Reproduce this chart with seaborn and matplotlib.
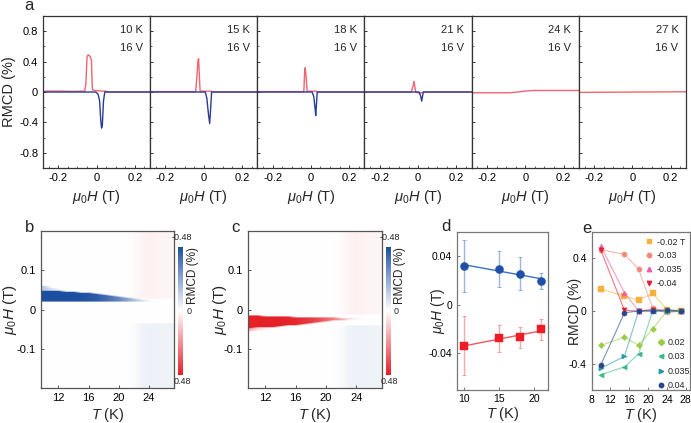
import numpy as np
import pandas as pd
import matplotlib
matplotlib.use("Agg")
import matplotlib.pyplot as plt
import seaborn as sns
from matplotlib.colors import LinearSegmentedColormap
from matplotlib.ticker import FixedLocator, MultipleLocator
from matplotlib.lines import Line2D

# ---------------- data: panel a (RMCD loops) ----------------
temps_a = ["10 K", "15 K", "18 K", "21 K", "24 K", "27 K"]
gate_a = "16 V"

red10_H = [-0.28, -0.2, -0.12, -0.062, -0.056, -0.05, -0.044, -0.034, -0.027, -0.022, -0.01, 0.03, 0.055, 0.06, 0.28]
red10_R = [0.01, 0.012, 0.008, 0.012, 0.1, 0.46, 0.49, 0.47, 0.42, 0.03, 0.02, 0.012, 0.01, 0.0, 0.0]
blue10_H = [-0.28, -0.004, 0.008, 0.016, 0.022, 0.026, 0.03, 0.036, 0.043, 0.28]
blue10_R = [0.0, 0.0, -0.03, -0.12, -0.38, -0.475, -0.44, -0.12, 0.0, 0.0]

red15_H = [-0.28, -0.042, -0.036, -0.03, -0.027, -0.023, -0.019, 0.04, 0.046, 0.28]
red15_R = [0.005, 0.005, 0.2, 0.42, 0.44, 0.22, 0.01, 0.01, 0.0, 0.0]
blue15_H = [-0.28, 0.008, 0.016, 0.025, 0.031, 0.036, 0.041, 0.28]
blue15_R = [0.0, 0.0, -0.08, -0.3, -0.415, -0.22, 0.0, 0.0]

red18_H = [-0.28, -0.037, -0.033, -0.03, -0.025, -0.02, 0.03, 0.034, 0.28]
red18_R = [0.005, 0.005, 0.25, 0.32, 0.2, 0.01, 0.01, 0.0, 0.0]
blue18_H = [-0.28, 0.006, 0.015, 0.022, 0.025, 0.029, 0.033, 0.28]
blue18_R = [0.0, 0.0, -0.06, -0.22, -0.31, -0.16, 0.0, 0.0]

red21_H = [-0.28, -0.036, -0.028, -0.021, -0.016, -0.012, -0.005, 0.024, 0.028, 0.28]
red21_R = [0.0, 0.0, 0.06, 0.14, 0.05, 0.0, -0.01, -0.01, 0.0, 0.0]
blue21_H = [-0.28, 0.005, 0.013, 0.019, 0.023, 0.027, 0.28]
blue21_R = [0.0, 0.0, -0.05, -0.12, -0.06, 0.0, 0.0]

red24_H = [-0.28, -0.08, -0.04, 0.0, 0.04, 0.28]
red24_R = [-0.01, -0.01, 0.0, 0.012, 0.02, 0.02]
red27_H = [-0.28, 0.28]
red27_R = [-0.005, 0.003]

traces_red = [(red10_H, red10_R), (red15_H, red15_R), (red18_H, red18_R),
              (red21_H, red21_R), (red24_H, red24_R), (red27_H, red27_R)]
traces_blue = [(blue10_H, blue10_R), (blue15_H, blue15_R), (blue18_H, blue18_R),
               (blue21_H, blue21_R), None, None]

# ---------------- data: panels b, c (maps) ----------------
hm_T = list(range(10, 28))                       # temperature columns (K)
hm_H = list(np.round(np.arange(-0.2, 0.20001, 0.0025), 4))  # field rows (T)
band_T = list(range(10, 25))
b_band_lo = [0.018, 0.018, 0.019, 0.019, 0.019, 0.019, 0.019, 0.019, 0.018, 0.018, 0.018, 0.018, 0.018, 0.019, 0.020]
b_band_hi = [0.047, 0.046, 0.045, 0.044, 0.043, 0.041, 0.040, 0.038, 0.036, 0.034, 0.032, 0.029, 0.026, 0.023, 0.021]
b_band_val = [-0.48, -0.48, -0.48, -0.48, -0.48, -0.47, -0.46, -0.44, -0.41, -0.37, -0.32, -0.25, -0.17, -0.09, -0.03]
b_halo_T = [10, 11, 12]
b_halo_edge = [0.058, 0.054, 0.05]
b_halo_val = [-0.14, -0.08, -0.04]

c_band_lo = [-0.048, -0.047, -0.046, -0.045, -0.044, -0.042, -0.041, -0.038, -0.036, -0.033, -0.031, -0.029, -0.028, -0.026, -0.025]
c_band_hi = [-0.016, -0.017, -0.018, -0.019, -0.020, -0.020, -0.021, -0.021, -0.022, -0.022, -0.022, -0.022, -0.023, -0.023, -0.024]
c_band_val = [0.48, 0.48, 0.48, 0.48, 0.48, 0.47, 0.46, 0.44, 0.42, 0.38, 0.33, 0.27, 0.2, 0.12, 0.04]
c_halo_T = [10, 11, 12]
c_halo_edge = [-0.056, -0.054, -0.052]
c_halo_val = [0.14, 0.08, 0.04]

bg_T = [22, 23, 24, 25, 26, 27]
bg_pos_val = [0.008, 0.025, 0.03, 0.025, 0.02, 0.02]
bg_neg_val = [-0.01, -0.03, -0.035, -0.035, -0.03, -0.03]
b_bg_cut = (0.025, -0.035)
c_bg_cut = (-0.015, -0.04)

cbar_labels = ["-0.48", "0", "0.48"]

# ---------------- data: panel d ----------------
d_T = [10, 15, 18, 21]
d_pos = [0.0317, 0.0295, 0.0257, 0.0199]
d_pos_err = [0.0215, 0.015, 0.0137, 0.0066]
d_neg = [-0.0337, -0.0279, -0.027, -0.0204]
d_neg_err = [0.024, 0.011, 0.0087, 0.009]

# ---------------- data: panel e ----------------
e_T = [10, 15, 18, 21, 24, 27]
e_labels_neg = ["-0.02 T", "-0.03", "-0.035", "-0.04"]
e_vals_neg = [
    [0.166, 0.115, 0.08, 0.135, 0.01, 0.0],
    [0.466, 0.43, 0.318, 0.02, 0.0, 0.0],
    [0.49, 0.138, 0.0, 0.01, 0.0, 0.0],
    [0.46, 0.005, 0.0, 0.01, -0.01, 0.0],
]
e_labels_pos = ["0.02", "0.03", "0.035", "0.04"]
e_vals_pos = [
    [-0.26, -0.2, -0.26, -0.135, 0.0, 0.0],
    [-0.484, -0.425, -0.326, 0.0, 0.0, 0.0],
    [-0.436, -0.344, 0.0, 0.0, 0.0, 0.0],
    [-0.408, -0.013, 0.0, 0.0, 0.01, 0.0],
]
e_colors_neg = ["#f6b13b", "#f08c7c", "#f05aa8", "#e41f35"]
e_markers_neg = ["s", "o", "^", "v"]
e_colors_pos = ["#9ccb45", "#3db88c", "#2a98aa", "#2d4689"]
e_markers_pos = ["D", "<", ">", "o"]

# ---------------- style ----------------
sns.set_theme(style="ticks")
plt.rcParams["font.family"] = ["Liberation Sans", "DejaVu Sans"]
plt.rcParams["mathtext.fontset"] = "custom"
plt.rcParams["mathtext.it"] = "Liberation Sans:italic"
plt.rcParams["mathtext.rm"] = "Liberation Sans"
plt.rcParams["axes.unicode_minus"] = False
plt.rcParams["xtick.direction"] = "in"
plt.rcParams["ytick.direction"] = "in"

RED = "#f0646e"
BLUE = "#2a3b97"
W, H = 691, 423
fig = plt.figure(figsize=(W / 100, H / 100), dpi=100)


def rect(l, t, r, b):
    return [l / W, 1 - b / H, (r - l) / W, (b - t) / H]


def style_axes(ax, color="#333333", lw=0.9):
    for s in ax.spines.values():
        s.set_color(color)
        s.set_linewidth(lw)
    ax.tick_params(colors=color, labelcolor="black", length=2.5, width=0.7)


mu_label = r"$\mu_{\mathit{0}}H$ (T)"
T_label = r"$T$ (K)"

# ---------------- panel a ----------------
pw = (686 - 43) / 6
for i in range(6):
    ax = fig.add_axes(rect(43 + i * pw, 16, 43 + (i + 1) * pw, 168))
    hr, rr = traces_red[i]
    sns.lineplot(x=hr, y=rr, ax=ax, color=RED, lw=1.0, sort=False, estimator=None)
    if traces_blue[i] is not None:
        hb, rb = traces_blue[i]
        sns.lineplot(x=hb, y=rb, ax=ax, color=BLUE, lw=1.0, sort=False, estimator=None)
    ax.set_xlim(-0.28, 0.28)
    ax.set_ylim(-1.0, 1.0)
    ax.xaxis.set_major_locator(FixedLocator([-0.2, 0, 0.2]))
    ax.set_xticklabels(["-0.2", "0", "0.2"], fontsize=8)
    ax.xaxis.set_minor_locator(MultipleLocator(0.05))
    ax.yaxis.set_major_locator(FixedLocator([-0.8, -0.4, 0, 0.4, 0.8]))
    ax.yaxis.set_minor_locator(MultipleLocator(0.2))
    ax.tick_params(which="minor", length=1.5, width=0.5)
    if i == 0:
        ax.set_yticklabels(["-0.8", "-0.4", "0", "0.4", "0.8"], fontsize=8)
        ax.set_ylabel("RMCD (%)", fontsize=10.5)
        ax.yaxis.set_label_coords(-0.255, 0.5)
    else:
        ax.set_yticklabels([])
        ax.set_ylabel("")
    ax.set_xlabel(mu_label, fontsize=10.5)
    ax.xaxis.set_label_coords(0.5, -0.13)
    style_axes(ax)
    ax.text(0.93, 0.905, temps_a[i], transform=ax.transAxes, ha="right", va="center", fontsize=8)
    ax.text(0.93, 0.787, gate_a, transform=ax.transAxes, ha="right", va="center", fontsize=8)

# ---------------- panels b, c ----------------
cmap = LinearSegmentedColormap.from_list("rmcd", ["#1d4fa0", "#ffffff", "#e52128"])
Hs = np.array(hm_H)


def build_map(lo, hi, val, halo_T, halo_edge, halo_val, halo_above, cut):
    grid = np.zeros((len(hm_H), len(hm_T)))
    for k, T in enumerate(band_T):
        j = hm_T.index(T)
        grid[(Hs >= lo[k]) & (Hs <= hi[k]), j] = val[k]
    for k, T in enumerate(halo_T):
        j = hm_T.index(T)
        if halo_above:
            sel = (Hs > hi[k]) & (Hs <= halo_edge[k])
        else:
            sel = (Hs < lo[k]) & (Hs >= halo_edge[k])
        grid[sel, j] = halo_val[k]
    for k, T in enumerate(bg_T):
        j = hm_T.index(T)
        grid[Hs > cut[0], j] = bg_pos_val[k]
        grid[Hs < cut[1], j] = bg_neg_val[k]
    return grid


maps = [
    (build_map(b_band_lo, b_band_hi, b_band_val, b_halo_T, b_halo_edge, b_halo_val, True, b_bg_cut),
     (40.7, 231, 174, 388), (178.3, 247, 183.3, 375), -0.165),
    (build_map(c_band_lo, c_band_hi, c_band_val, c_halo_T, c_halo_edge, c_halo_val, False, c_bg_cut),
     (247.7, 231, 381.7, 388), (385.7, 247, 390.7, 375), -0.14),
]
for grid, r, cr, ylc in maps:
    ax = fig.add_axes(rect(*r))
    dT = 0.5
    dH = 0.00125
    im = ax.imshow(grid, origin="lower", aspect="auto", cmap=cmap, vmin=-0.48, vmax=0.48,
                   interpolation="bilinear",
                   extent=[hm_T[0] - dT, hm_T[-1] + dT, hm_H[0] - dH, hm_H[-1] + dH])
    ax.set_xlim(9.65, 27.35)
    ax.set_ylim(-0.2, 0.2)
    ax.xaxis.set_major_locator(FixedLocator([12, 16, 20, 24]))
    ax.set_xticklabels(["12", "16", "20", "24"], fontsize=8)
    ax.yaxis.set_major_locator(FixedLocator([-0.1, 0, 0.1]))
    ax.set_yticklabels(["-0.1", "0", "0.1"], fontsize=8)
    ax.set_xlabel(T_label, fontsize=10.5)
    ax.xaxis.set_label_coords(0.5, -0.115)
    ax.set_ylabel(mu_label, fontsize=11)
    ax.yaxis.set_label_coords(ylc, 0.5)
    style_axes(ax, "#555555")
    cax = fig.add_axes(rect(*cr))
    cb = fig.colorbar(im, cax=cax)
    cax.invert_yaxis()
    cax.set_yticks([])
    cb.outline.set_visible(False)
    cx = (cr[0] + cr[2]) / 2
    fig.text((cx + 1.5) / W, 1 - 237 / H, cbar_labels[0], ha="center", va="center", fontsize=6.5)
    fig.text((cx + 1.5) / W, 1 - 381 / H, cbar_labels[2], ha="center", va="center", fontsize=6.5)
    fig.text((cr[2] + 3) / W, 1 - 312 / H, cbar_labels[1], ha="left", va="center", fontsize=6.5)
    fig.text((cr[2] + 3.5) / W, 1 - 275 / H, "RMCD (%)", ha="left", va="center",
             rotation=90, fontsize=8.5)

# ---------------- panel d ----------------
axd = fig.add_axes(rect(457, 232, 547.7, 389.5))
for vals, errs, col, lcol, mk in [(d_pos, d_pos_err, "#1f4fa8", "#3d6ec2", "o"),
                                  (d_neg, d_neg_err, "#ee1c25", "#f2545a", "s")]:
    axd.errorbar(d_T, vals, yerr=errs, fmt="none", ecolor=lcol, alpha=0.5, elinewidth=1.0,
                 capsize=1.5, capthick=0.7)
    coef = np.polyfit(d_T, vals, 1)
    xs = np.array([d_T[0], d_T[-1]])
    sns.lineplot(x=xs, y=np.polyval(coef, xs), ax=axd, color=lcol, lw=1.0)
    sns.scatterplot(x=d_T, y=vals, ax=axd, color=col, marker=mk, s=34, edgecolor=col, linewidth=0.3,
                    zorder=5)
axd.set_xlim(8.95, 22)
axd.set_ylim(-0.07, 0.06)
axd.xaxis.set_major_locator(FixedLocator([10, 15, 20]))
axd.set_xticklabels(["10", "15", "20"], fontsize=7.5)
axd.yaxis.set_major_locator(FixedLocator([-0.04, 0, 0.04]))
axd.set_yticklabels(["-0.04", "0", "0.04"], fontsize=7.5)
axd.set_xlabel(T_label, fontsize=10.5)
axd.xaxis.set_label_coords(0.5, -0.1)
axd.set_ylabel(mu_label, fontsize=10)
axd.yaxis.set_label_coords(-0.115, 0.5)
style_axes(axd, "#777777")

# ---------------- panel e ----------------
axe = fig.add_axes(rect(591.5, 232, 690, 390))
order = list(zip(e_labels_neg, e_vals_neg, e_colors_neg, e_markers_neg)) + \
        list(zip(e_labels_pos, e_vals_pos, e_colors_pos, e_markers_pos))
for lab, vals, col, mk in order:
    sns.lineplot(x=e_T, y=vals, ax=axe, color=col, lw=0.8, alpha=0.6, sort=False, estimator=None)
    sns.scatterplot(x=e_T, y=vals, ax=axe, color=col, marker=mk, s=14 if mk != "D" else 10,
                    edgecolor=col, linewidth=0.3, zorder=5)
axe.set_xlim(8, 28.9)
axe.set_ylim(-0.6, 0.6)
axe.xaxis.set_major_locator(FixedLocator([8, 12, 16, 20, 24, 28]))
axe.set_xticklabels(["8", "12", "16", "20", "24", "28"], fontsize=7.5)
axe.yaxis.set_major_locator(FixedLocator([-0.4, 0, 0.4]))
axe.set_yticklabels(["-0.4", "0", "0.4"], fontsize=7.5)
axe.set_xlabel(T_label, fontsize=10.5)
axe.xaxis.set_label_coords(0.5, -0.1)
axe.set_ylabel("RMCD (%)", fontsize=10)
axe.yaxis.set_label_coords(-0.1, 0.5)
style_axes(axe, "#777777")

h_neg = [Line2D([], [], marker=m, color=c, ls="none", markersize=3.2) for c, m in zip(e_colors_neg, e_markers_neg)]
h_pos = [Line2D([], [], marker=m, color=c, ls="none", markersize=3.2) for c, m in zip(e_colors_pos, e_markers_pos)]
leg1 = axe.legend(h_neg, e_labels_neg, loc="upper left", bbox_to_anchor=(0.55, 0.965), frameon=False,
                  fontsize=6.5, handlelength=0.8, handletextpad=0.4, labelspacing=0.55, borderpad=0,
                  borderaxespad=0)
axe.add_artist(leg1)
axe.legend(h_pos, e_labels_pos, loc="upper left", bbox_to_anchor=(0.665, 0.33), frameon=False,
           fontsize=6.5, handlelength=0.8, handletextpad=0.4, labelspacing=0.6, borderpad=0,
           borderaxespad=0)

# ---------------- panel letters ----------------
for lab, x, y in [("a", 29, 6), ("b", 30, 227), ("c", 235, 227), ("d", 446, 226), ("e", 587, 228)]:
    fig.text(x / W, 1 - y / H, lab, ha="center", va="center", fontsize=12)

fig.savefig("out.png", dpi=100)
